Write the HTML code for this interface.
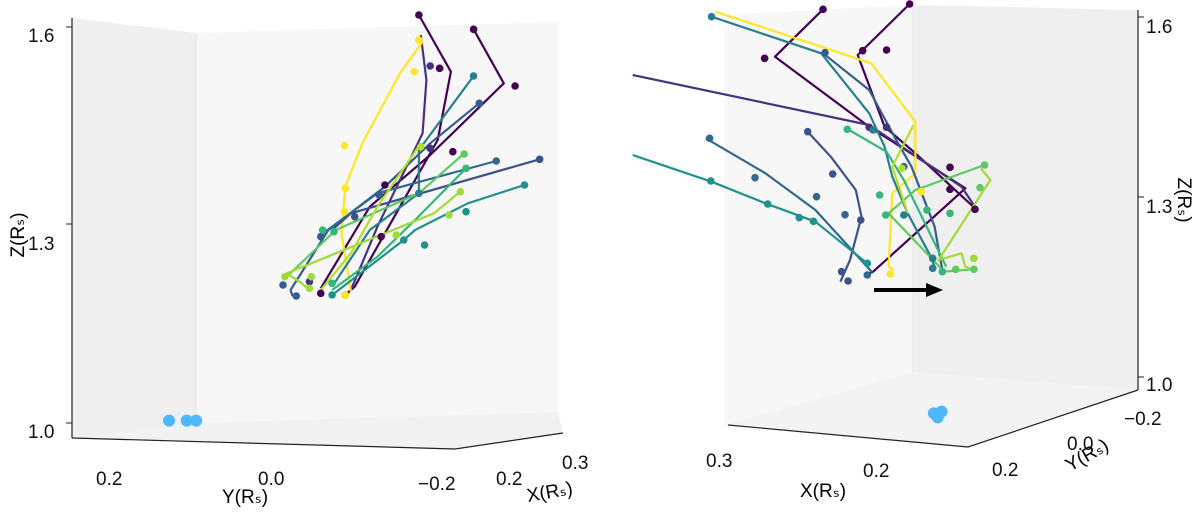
<!DOCTYPE html>
<html><head><meta charset="utf-8"><style>
html,body{margin:0;padding:0;background:#fff;}
svg{display:block;font-family:"Liberation Sans",sans-serif;}
</style></head><body>
<svg id="chart" width="1200" height="512" viewBox="0 0 1200 512">
  <g>
    <polygon points="72,18 196,33 196,423 72,438" fill="#efefef"/>
    <polygon points="196,33 558,22 558,412 196,423" fill="#f7f7f7"/>
    <polygon points="72,438 196,423 558,412 563,433 455,449" fill="#f1f1f1"/>
    <line x1="196" y1="33" x2="196" y2="423" stroke="#e4e4e4"/>
    <line x1="72" y1="18" x2="72" y2="438" stroke="#222" stroke-width="1.2"/>
    <polyline points="72,438 455,449 563,433" fill="none" stroke="#222" stroke-width="1.2"/>
    <g stroke="#222"><line x1="72" y1="27" x2="66" y2="27"/><line x1="72" y1="224" x2="66" y2="224"/><line x1="72" y1="423" x2="66" y2="423"/></g>
    <g font-size="19" fill="#111">
      <text x="28" y="42">1.6</text><text x="28" y="250">1.3</text><text x="28" y="438">1.0</text>
    </g>
    <text transform="translate(24,235) rotate(-90)" font-size="19" text-anchor="middle">Z(Rₛ)</text>
    <g font-size="19" fill="#111">
      <text x="96" y="485">0.2</text><text x="258" y="485">0.0</text><text x="418" y="490">−0.2</text>
    </g>
    <text x="222" y="503" font-size="19">Y(Rₛ)</text>
    <g font-size="19" fill="#111">
      <text x="496" y="485">0.2</text><text x="562" y="469">0.3</text>
    </g>
    <text transform="translate(528,502) rotate(-10)" font-size="19">X(Rₛ)</text>
    <g id="leftMarks"></g>
  </g>
  <g>
    <polygon points="725,15 913,5 913,372 725,425" fill="#f7f7f7"/>
    <polygon points="913,5 1138,10 1138,390 913,372" fill="#efefef"/>
    <polygon points="725,425 913,372 1138,390 968,447" fill="#f3f3f3"/>
    <line x1="913" y1="5" x2="913" y2="372" stroke="#e4e4e4"/>
    <line x1="1138" y1="10" x2="1138" y2="390" stroke="#222" stroke-width="1.2"/>
    <polyline points="728,425 968,447 1138,390" fill="none" stroke="#222" stroke-width="1.2"/>
    <g stroke="#222"><line x1="1138" y1="17" x2="1144" y2="17"/><line x1="1138" y1="197" x2="1144" y2="197"/><line x1="1138" y1="377" x2="1144" y2="377"/></g>
    <g font-size="19" fill="#111">
      <text x="1146" y="33">1.6</text><text x="1146" y="213">1.3</text><text x="1146" y="391">1.0</text>
    </g>
    <text transform="translate(1178,200) rotate(90)" font-size="19" text-anchor="middle">Z(Rₛ)</text>
    <g font-size="19" fill="#111">
      <text x="706" y="467">0.3</text><text x="863" y="477">0.2</text>
    </g>
    <text x="800" y="497" font-size="19">X(Rₛ)</text>
    <g font-size="19" fill="#111">
      <text x="992" y="476">0.2</text><text x="1067" y="450">0.0</text><text x="1124" y="425">−0.2</text>
    </g>
    <text transform="translate(1070,472) rotate(-30)" font-size="19">Y(Rₛ)</text>
    <g>
      <line x1="874" y1="290" x2="928" y2="290" stroke="#000" stroke-width="4"/>
      <polygon points="926,283 943,290 926,297" fill="#000"/>
    </g>
    <g id="rightMarks"></g>
  </g>
</svg>
<script>
// projected (h,v) coordinates for each trajectory in the two views
const colors = ["#440154","#440154","#46327e","#fde725","#277f8e","#365c8d","#3b528b","#31688e","#21918c","#35b779","#5ec962","#a0da39","#b5de2b"];
const leftLines = [
 [[1110,45],[1195,215],[1160,420],[1090,560],[1020,700],[940,860],[915,885]],
 [[1255,88],[1335,250],[1140,465],[980,620],[850,865]],
 [[1115,105],[1130,240],[1120,400],[1060,540],[1000,680],[930,870]],
 [[1120,125],[1060,220],[960,430],[915,560],[905,700],[930,875]],
 [[1255,228],[1110,450],[1110,580],[980,690],[880,860]],
 [[1270,310],[1140,430],[1020,560],[870,690],[770,870],[775,888]],
 [[1430,478],[930,640],[880,690]],
 [[1315,483],[1000,580],[850,705]],
 [[1390,555],[1240,610],[1100,690],[1070,720],[880,885]],
 [[1235,505],[1100,660],[1000,770],[880,870]],
 [[1230,460],[1110,580],[890,690],[760,830]],
 [[1225,570],[1150,640],[760,820],[800,850],[820,870]],
 [[1115,430],[1000,620],[930,760],[850,870]]
];
const leftDots = [
 [[1110,45],[1165,205],[1020,555],[915,885]],
 [[1255,88],[1365,258],[1200,455],[1010,710],[850,880]],
 [[1140,198],[1140,445],[1005,585],[820,845]],
 [[1110,120],[1098,215],[913,437],[915,565],[913,635],[915,885]],
 [[1255,228],[1110,580]],
 [[1270,310],[1005,585],[850,710],[750,855],[785,888]],
 [[1430,478],[940,650]],
 [[1315,483]],
 [[1390,555],[1235,635],[1125,735],[1070,720],[880,885]],
 [[1235,505],[855,690],[885,695],[880,850]],
 [[1230,462]],
 [[1220,575],[1190,645],[1050,705],[755,830],[825,830],[820,865]],
 [[1115,440]]
];
const rightLines = [
 [[580,28],[455,170],[700,380],[950,565],[710,815],[700,820]],
 [[805,12],[670,165],[740,380],[820,460],[975,625]],
 [[85,225],[700,375],[940,560],[975,620]],
 [[300,35],[705,190],[820,365],[820,520],[760,580],[750,800],[765,810]],
 [[290,50],[575,160],[700,340],[740,440],[760,530],[800,640],[860,770],[870,800]],
 [[580,160],[700,270],[770,420],[810,500],[870,680],[890,810]],
 [[540,395],[600,470],[665,570],[680,650],[650,780],[625,845]],
 [[275,415],[430,520],[560,630],[710,820]],
 [[85,465],[290,545],[430,610],[560,665],[700,795]],
 [[640,385],[745,455],[790,540],[900,800]],
 [[1000,495],[820,570],[780,610],[750,640],[895,815],[970,808]],
 [[990,505],[1015,540],[880,780],[940,760],[950,800],[965,808]],
 [[815,375],[760,500],[800,640]]
];
const rightDots = [
 [[580,28],[428,175],[910,502],[910,568],[975,628]],
 [[805,12],[683,152],[745,150]],
 [[700,382],[745,382]],
 [[835,575],[790,645],[755,822]],
 [[290,50],[710,390],[790,645],[865,775],[865,805]],
 [[585,158],[790,500]],
 [[540,395],[605,522],[678,660],[628,815],[645,843]],
 [[285,415],[403,533],[563,590],[637,644],[695,825]],
 [[288,543],[436,612],[518,653],[555,664],[695,790]],
 [[643,388],[727,585],[743,645],[850,630],[910,640],[890,815]],
 [[1000,495],[988,563],[925,808],[972,808]],
 [[972,775]],
 [[785,505]]
];
const leftSun = [[448,1262],[495,1262],[520,1262]];
const rightSun = [[868,1240],[888,1235],[878,1252]];

function lx(h){return h/2.65;} function ly(v){return v/3;}
function rx(h){return 600+h/2.6;} function ry(v){return v/3;}
const NS="http://www.w3.org/2000/svg";
function draw(gid, lines, dots, sun, fx, fy){
  const g=document.getElementById(gid);
  lines.forEach((ln,i)=>{
    const p=document.createElementNS(NS,"polyline");
    p.setAttribute("points",ln.map(q=>fx(q[0]).toFixed(1)+","+fy(q[1]).toFixed(1)).join(" "));
    p.setAttribute("fill","none");p.setAttribute("stroke",colors[i]);p.setAttribute("stroke-width","2.2");
    p.setAttribute("stroke-linejoin","round");
    
    
    g.appendChild(p);
  });
  dots.forEach((ds,i)=>{ds.forEach(q=>{
    const c=document.createElementNS(NS,"circle");
    c.setAttribute("cx",fx(q[0]));c.setAttribute("cy",fy(q[1]));c.setAttribute("r","3.8");c.setAttribute("fill",colors[i]);
    
    
    g.appendChild(c);
  });});
  sun.forEach(q=>{
    const c=document.createElementNS(NS,"circle");
    c.setAttribute("cx",fx(q[0]));c.setAttribute("cy",fy(q[1]));c.setAttribute("r","6");c.setAttribute("fill","#4db8ff");
    
    
    g.appendChild(c);
  });
}
draw("leftMarks",leftLines,leftDots,leftSun,lx,ly);
draw("rightMarks",rightLines,rightDots,rightSun,rx,ry);
</script>
</body></html>
